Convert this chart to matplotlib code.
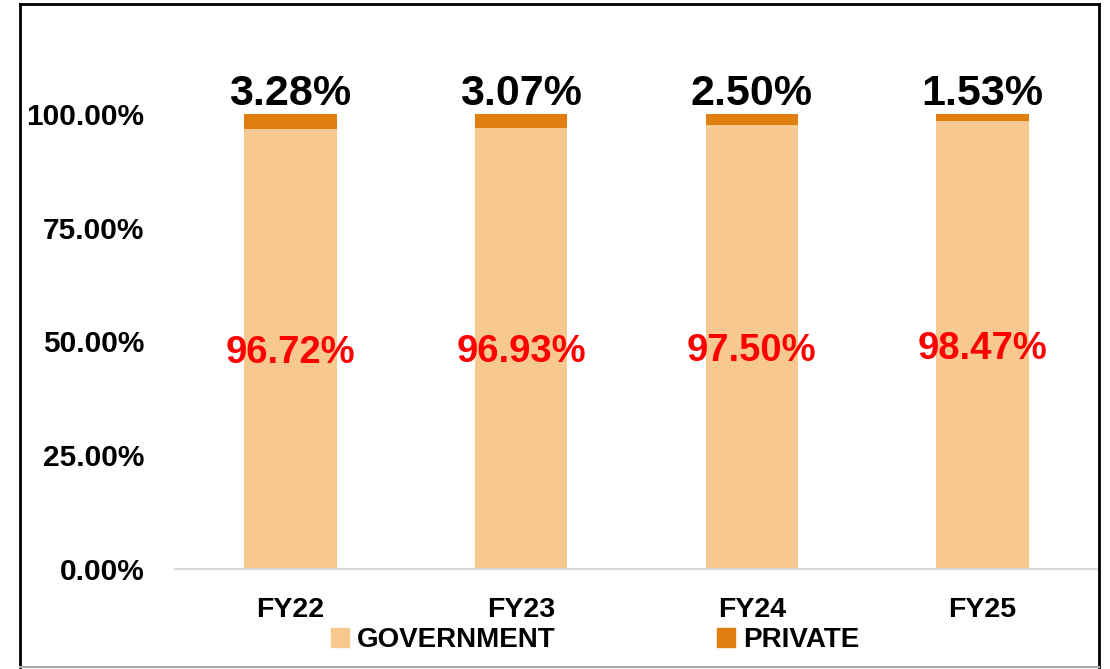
import matplotlib
matplotlib.use("Agg")
import matplotlib.pyplot as plt
from matplotlib.lines import Line2D
from matplotlib.patches import Patch
import numpy as np

plt.rcParams["font.family"] = ["Liberation Sans", "DejaVu Sans"]
plt.rcParams["font.weight"] = "bold"

# CONFIG
YEARS = ["FY22", "FY23", "FY24", "FY25"]
GOVERNMENT = [96.72, 96.93, 97.50, 98.47]
PRIVATE = [3.28, 3.07, 2.50, 1.53]
Y_TICKS = [0, 25, 50, 75, 100]

COLOR_GOV = "#F7C990"
COLOR_PRIV = "#E07F10"
AXIS_COLOR = "#D9D9D9"

W, H = 1110, 669
fig = plt.figure(figsize=(W / 100, H / 100), dpi=100)
ax = fig.add_axes([175 / W, (H - 569) / H, (1098 - 175) / W, 500.5 / H])

x = np.arange(len(YEARS))
ax.bar(x, GOVERNMENT, width=0.4, color=COLOR_GOV, label="GOVERNMENT")
ax.bar(x, PRIVATE, width=0.4, bottom=GOVERNMENT, color=COLOR_PRIV, label="PRIVATE")

for xi, g, p in zip(x, GOVERNMENT, PRIVATE):
    ax.text(xi, g / 2, f"{g:.2f}%", ha="center", va="center_baseline",
            color="#FF0000", fontsize=27.5, fontweight="bold")
    ax.annotate(f"{p:.2f}%", (xi, g + p), xytext=(0, 6.5), textcoords="offset points",
                ha="center", va="baseline", color="black", fontsize=31, fontweight="bold")

ax.set_xlim(-0.5, len(YEARS) - 0.5)
ax.set_ylim(0, 110)
ax.set_xticks(x)
ax.set_xticklabels(YEARS, fontsize=20.5, fontweight="bold")
ax.set_yticks(Y_TICKS)
ax.set_yticklabels([f"{t:.2f}%" for t in Y_TICKS], fontsize=21.5, fontweight="bold")
ax.tick_params(axis="x", length=0, pad=20)
ax.tick_params(axis="y", length=0, pad=22)

for side in ["top", "right", "left"]:
    ax.spines[side].set_visible(False)
ax.spines["bottom"].set_color(AXIS_COLOR)
ax.spines["bottom"].set_linewidth(1.5)

handles = [Patch(color=COLOR_GOV), Patch(color=COLOR_PRIV)]
fig.legend(handles, ["GOVERNMENT", "PRIVATE"], loc="center", ncol=2,
           bbox_to_anchor=(595 / W, 29 / H), frameon=False,
           prop={"size": 20, "weight": "bold"}, handlelength=0.65, handleheight=0.65,
           handletextpad=0.3, columnspacing=5.8)

# outer frame
def fx(px):
    return px / W

def fy(py):
    return (H - py) / H

fig.add_artist(Line2D([fx(20), fx(20)], [fy(4), fy(667)], color="black", linewidth=2))
fig.add_artist(Line2D([fx(20), fx(1099)], [fy(4), fy(4)], color="black", linewidth=2))
fig.add_artist(Line2D([fx(1099), fx(1099)], [fy(4), fy(667)], color="black", linewidth=2))
fig.add_artist(Line2D([fx(20), fx(1099)], [fy(667), fy(667)], color="#AAAAAA", linewidth=1.5))

fig.savefig("out.png", dpi=100)
